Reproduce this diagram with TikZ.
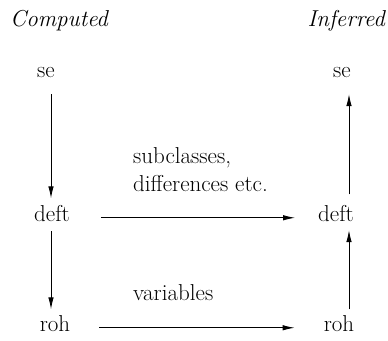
\documentclass[tikz,border=0pt]{standalone}
\usetikzlibrary{arrows.meta}
\begin{document}
\begin{tikzpicture}[x=1pt,y=-1pt,
 lbl/.style={font=\fontsize{23}{28}\selectfont, inner sep=0pt, text height=1.5ex, text depth=0pt, anchor=base},
 hd/.style={font=\fontsize{23}{28}\selectfont\itshape, inner sep=0pt},
 txt/.style={font=\fontsize{23}{28}\selectfont, inner sep=0pt, anchor=base west},
 arr/.style={-{Latex[length=12pt,width=5.5pt]}, line width=0.9pt}]
\useasboundingbox (0,0) rectangle (388,340);
\node[hd, anchor=base west] (comp) at (10,26) {Computed};
\node[hd, anchor=base east] (inf) at (385,26) {Inferred};
\node[lbl] (se1) at (46,77) {se};
\node[lbl] (deft1) at (52,221) {deft};
\node[lbl] (roh1) at (55,331) {roh};
\node[lbl] (se2) at (342,77) {se};
\node[lbl] (deft2) at (336,221) {deft};
\node[lbl] (roh2) at (339,331) {roh};
\coordinate (cl) at (51,0);
\coordinate (cr) at (349,0);
\node[txt] (l1) at (133,163) {subclasses,};
\node[txt] (l2) at (133,191) {dif{}ferences etc.};
\node[txt] (l3) at (133,300) {variables};
\draw[arr, shorten <=17pt, shorten >=16pt] (se1.south -| cl) -- (deft1.north -| cl);
\draw[arr, shorten <=10pt, shorten >=15pt] (deft1.south -| cl) -- (roh1.north -| cl);
\draw[arr, shorten <=20pt, shorten >=17pt] (deft2.north -| cr) -- (se2.south -| cr);
\draw[arr, shorten <=15pt, shorten >=9pt] (roh2.north -| cr) -- (deft2.south -| cr);
\draw[arr, shorten <=31pt, shorten >=23pt] (deft1.east) -- (deft2.west);
\draw[arr, shorten <=29pt, shorten >=29pt] (roh1.east) -- (roh2.west);
\end{tikzpicture}
\end{document}
